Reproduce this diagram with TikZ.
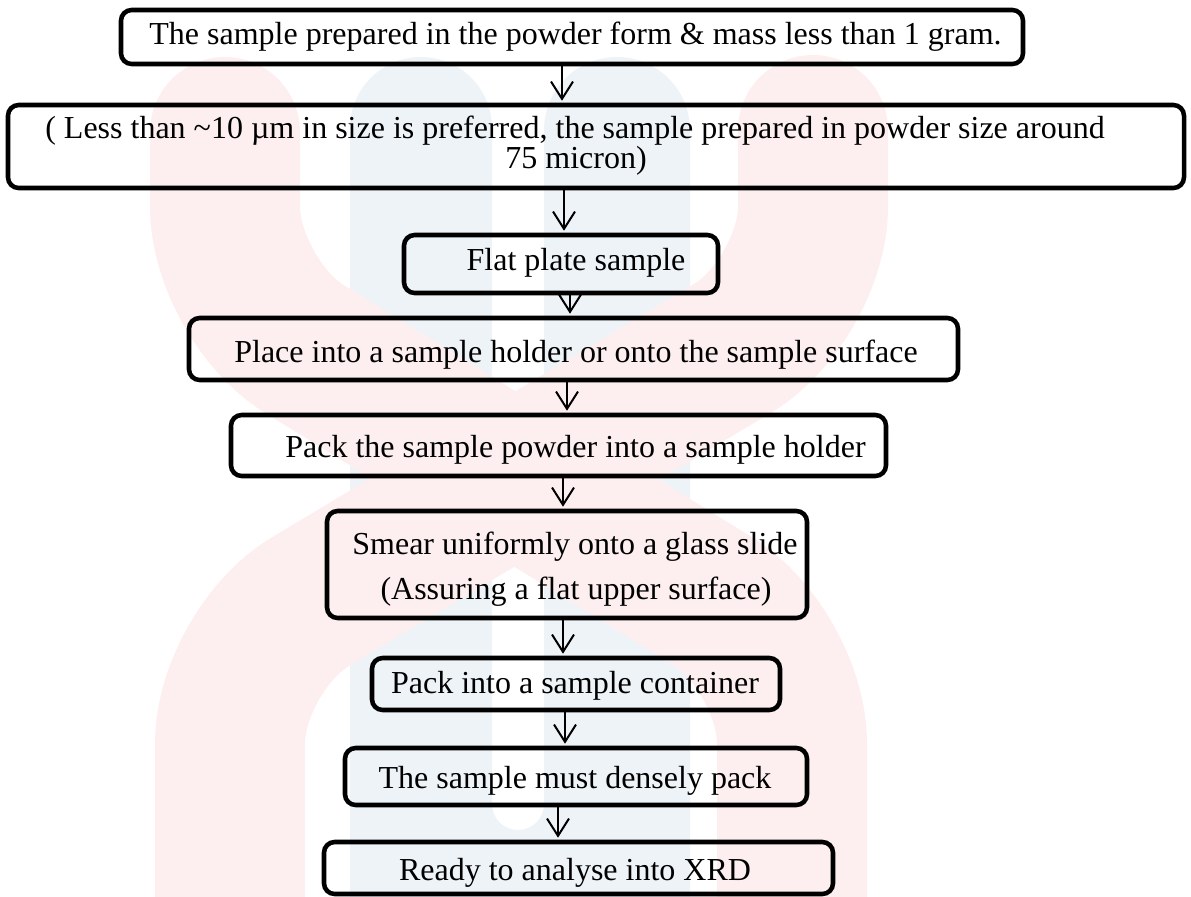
\documentclass[tikz,border=0pt]{standalone}
\usepackage{fontspec}
\setmainfont{Liberation Serif}
\usetikzlibrary{arrows.meta}
\definecolor{wmred}{RGB}{253,239,239}
\definecolor{wmblue}{RGB}{238,243,248}
\begin{document}
\begin{tikzpicture}[x=0.75pt,y=-0.75pt,
  stepbox/.style 2 args={draw=black, line width=3.4pt, rounded corners=8pt,
     inner sep=0pt, minimum width=#1*0.75pt, minimum height=#2*0.75pt},
  lbl/.style={anchor=base, inner sep=0pt, font=\fontsize{24pt}{28pt}\selectfont},
  arr/.style={draw=black, line width=1.5pt,
     -{Straight Barb[length=13pt,width=16.5pt,line width=1.5pt]}, shorten >=1.5pt}]
\useasboundingbox (0,0) rectangle (1191,896);
% watermark
\begin{scope}
\clip (0,0) rectangle (1191,896);
\fill[wmblue] (350,960) -- (350,128) arc[start angle=180,end angle=360,radius=71]
   -- (492,804) arc[start angle=180,end angle=0,radius=26]
   -- (544,130) arc[start angle=180,end angle=360,radius=73] -- (690,960) -- cycle;
\draw[wmred, line width=112.5pt, line cap=round, rounded corners=70pt]
   (225,132) -- (225,300) -- (792,650) -- (792,1000);
\draw[wmred, line width=112.5pt, line cap=round, rounded corners=70pt]
   (813,130) -- (813,300) -- (230,650) -- (230,1000);
\end{scope}
% boxes
\node[stepbox={902}{54}]  (b1) at (572,37) {};
\node[stepbox={1176}{83}] (b2) at (596,146.5) {};
\node[stepbox={314}{58}]  (b3) at (561,264) {};
\node[stepbox={769}{62}]  (b4) at (573.5,349) {};
\node[stepbox={655}{61}]  (b5) at (558.5,445.5) {};
\node[stepbox={480}{107}] (b6) at (567,564.5) {};
\node[stepbox={408}{52}]  (b7) at (576,684) {};
\node[stepbox={462}{57}]  (b8) at (576,776.5) {};
\node[stepbox={509}{52}]  (b9) at (578.5,868) {};
% texts
\node[lbl] (t1)  at (575.5,44)  {The sample prepared in the powder form \& mass less than 1 gram.};
\node[lbl] (t2a) at (575,138)   {( Less than \textasciitilde10 µm in size is preferred, the sample prepared in powder size around};
\node[lbl] (t2b) at (576,168)   {75 micron)};
\node[lbl] (t3)  at (576,270)   {Flat plate sample};
\node[lbl] (t4)  at (576,362.5) {Place into a sample holder or onto the sample surface};
\node[lbl] (t5)  at (575.5,457.5) {Pack the sample powder into a sample holder};
\node[lbl] (t6a) at (575,554)   {Smear uniformly onto a glass slide};
\node[lbl] (t6b) at (576,599)   {(Assuring a flat upper surface)};
\node[lbl] (t7)  at (575,693)   {Pack into a sample container};
\node[lbl] (t8)  at (575,788)   {The sample must densely pack};
\node[lbl] (t9)  at (575,880)   {Ready to analyse into XRD};
% arrows
\coordinate (c1) at (562,0);
\coordinate (c2) at (564,0);
\coordinate (c3) at (570,0);
\coordinate (c4) at (567,0);
\coordinate (c5) at (563,0);
\coordinate (c6) at (563,0);
\coordinate (c7) at (565,0);
\coordinate (c8) at (558,0);
\draw[arr] (b1.south -| c1) -- (b2.north -| c1);
\draw[arr] (b2.south -| c2) -- (b3.north -| c2);
\draw[arr] (b3.south -| c3) -- (b4.north -| c3);
\draw[arr] (b4.south -| c4) -- (b5.north -| c4);
\draw[arr] (b5.south -| c5) -- (b6.north -| c5);
\draw[arr] (b6.south -| c6) -- (b7.north -| c6);
\draw[arr] (b7.south -| c7) -- (b8.north -| c7);
\draw[arr] (b8.south -| c8) -- (b9.north -| c8);
\end{tikzpicture}
\end{document}
